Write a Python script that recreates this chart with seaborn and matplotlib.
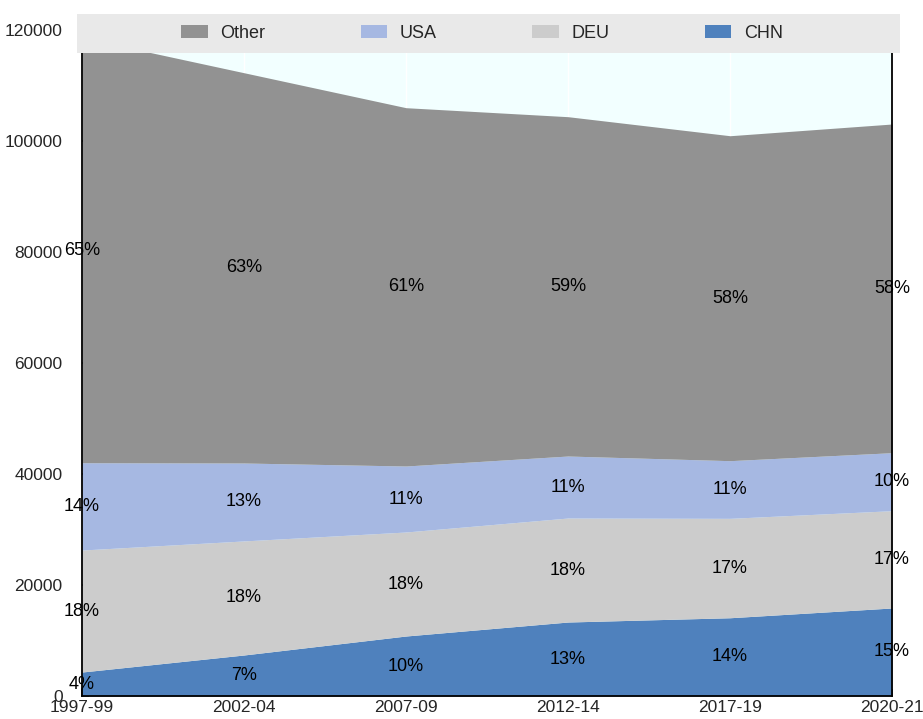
import numpy as np
import pandas as pd
import matplotlib
matplotlib.use('Agg')
import matplotlib.pyplot as plt
from matplotlib.patches import Rectangle
import seaborn as sns

# Data
periods = ['1997-99', '2002-04', '2007-09', '2012-14', '2017-19', '2020-21']
chn = [4320, 7390, 10810, 13330, 14100, 15860]
deu = [21980, 20550, 18740, 18740, 17910, 17530]
usa = [15730, 14040, 11890, 11170, 10390, 10450]
other = [76570, 70320, 64560, 61140, 58550, 59220]

chn_lbl = ['4%', '7%', '10%', '13%', '14%', '15%']
deu_lbl = ['18%', '18%', '18%', '18%', '17%', '17%']
usa_lbl = ['14%', '13%', '11%', '11%', '11%', '10%']
other_lbl = ['65%', '63%', '61%', '59%', '58%', '58%']

series = ['CHN', 'DEU', 'USA', 'Other']
colors = {'CHN': '#4f81bd', 'DEU': '#cccccc', 'USA': '#a6b8e2', 'Other': '#929292'}

df = pd.DataFrame({'period': periods, 'CHN': chn, 'DEU': deu, 'USA': usa, 'Other': other})
labels = {'CHN': chn_lbl, 'DEU': deu_lbl, 'USA': usa_lbl, 'Other': other_lbl}

sns.set_theme(style='white')
plt.rcParams['font.family'] = ['Liberation Sans Narrow', 'Liberation Sans', 'DejaVu Sans']

fig = plt.figure(figsize=(9.23, 7.19), dpi=100)
ax = fig.add_axes([82 / 923, 23 / 719, 810 / 923, 666 / 719])
ax.set_facecolor('#f2ffff')

x = np.arange(len(periods))
ax.stackplot(x, *[df[s] for s in series], colors=[colors[s] for s in series],
             labels=series, linewidth=0, zorder=2)

# percentage labels in the middle of each band
bottom = np.zeros(len(periods))
for s in series:
    vals = df[s].to_numpy()
    for i in range(len(periods)):
        ax.text(x[i], bottom[i] + vals[i] / 2, labels[s][i], ha='center', va='center',
                fontsize=13, color='black', zorder=3)
    bottom += vals

ax.set_xlim(0, len(periods) - 1)
ax.set_ylim(0, 120000)
ax.set_yticks(range(0, 120001, 20000))
ax.set_xticks(x)
ax.set_xticklabels(periods)
ax.tick_params(axis='both', direction='in', length=5, width=1.2, color='black',
               labelsize=12.5, left=True, bottom=True)
ax.tick_params(axis='y', pad=14)
ax.tick_params(axis='x', pad=3)
ax.grid(axis='x', color='white', linewidth=1)
ax.grid(axis='y', visible=False)
ax.set_axisbelow(True)
for sp in ax.spines.values():
    sp.set_color('black')
    sp.set_linewidth(1.3)

# grey legend band on top
ax.add_patch(Rectangle((77 / 923, 1 - 53 / 719), 823 / 923, 39 / 719, transform=fig.transFigure,
                       facecolor='#e9e9e9', edgecolor='none', clip_on=False, zorder=6))
handles, labs = ax.get_legend_handles_labels()
order = ['Other', 'USA', 'DEU', 'CHN']
hmap = dict(zip(labs, handles))
leg = ax.legend([hmap[o] for o in order], order, ncol=4, frameon=False, fontsize=13,
                loc='center', bbox_to_anchor=(482 / 923, 1 - 33.5 / 719),
                bbox_transform=fig.transFigure, columnspacing=5.3, handlelength=1.45,
                handletextpad=0.7, handleheight=0.7)
leg.set_zorder(7)

fig.savefig('out.png', dpi=100)
